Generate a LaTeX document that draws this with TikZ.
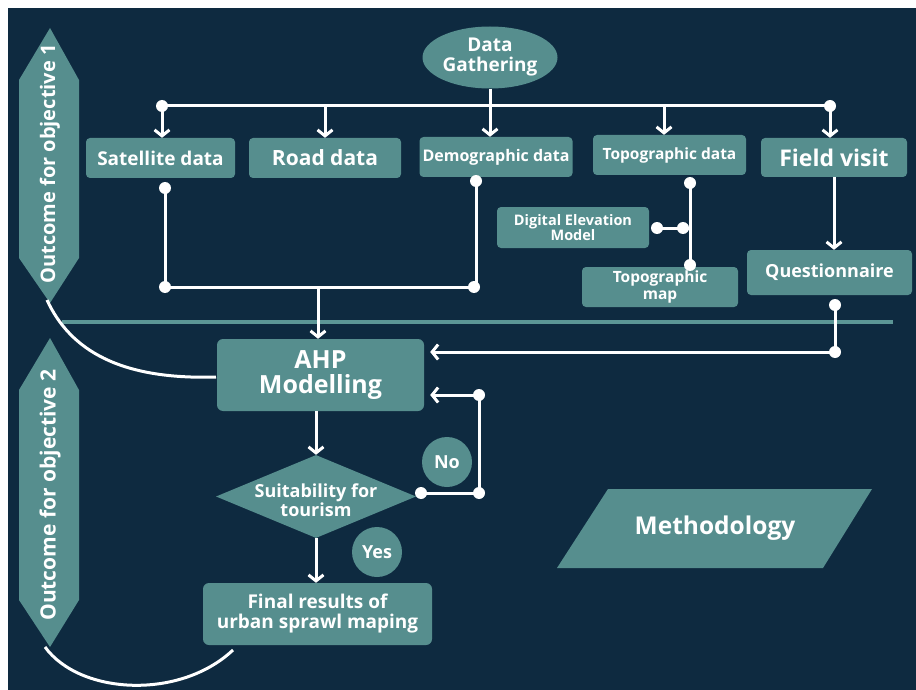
\documentclass[tikz,border=0pt]{standalone}
\usepackage{fontspec}
\setmainfont{Open Sans}
\usetikzlibrary{arrows.meta,shapes.geometric}
\definecolor{navy}{RGB}{14,42,64}
\definecolor{tealc}{RGB}{86,142,142}
\definecolor{tline}{RGB}{92,150,150}
\newcommand\fsz[2]{\fontsize{#1}{#2}\selectfont}
\tikzset{
  box/.style={rectangle, rounded corners=4pt, fill=tealc, text=white, font=\bfseries, inner sep=0pt, align=center},
  wire/.style={draw=white, line width=3pt},
  arr/.style={wire, -{Straight Barb[length=6pt,width=15pt]}},
  dot/.style={circle, fill=white, inner sep=0pt, minimum size=12pt},
  lbl/.style={text=white, font=\bfseries, align=center, inner sep=0pt},
  shapefill/.style={fill=tealc},
  bubble/.style={circle, fill=tealc, text=white, font=\bfseries, inner sep=0pt, minimum size=50pt},
}
\begin{document}
\begin{tikzpicture}[x=1pt,y=-1pt]
\useasboundingbox (0,0) rectangle (916,690);
\fill[white] (0,0) rectangle (916,690);
\fill[navy] (8,8) rectangle (916,690);

% separator line
\draw[tline, line width=4pt] (62,322) -- (893,322);

% outcome hexagons
\fill[shapefill] (50,28) -- (79,80) -- (79,258) -- (50,303) -- (19,258) -- (19,80) -- cycle;
\node[lbl, rotate=90, font=\bfseries\fsz{20}{20}] (out1) at (50,164) {Outcome for objective 1};
\fill[shapefill] (50,338) -- (79,390) -- (79,600) -- (50,647) -- (19,600) -- (19,390) -- cycle;
\node[lbl, rotate=90, font=\bfseries\fsz{21}{21}] (out2) at (50,495) {Outcome for objective 2};

% curves
\draw[white, line width=3pt] (47,300) .. controls (70,350) and (120,380) .. (216,377);
\draw[white, line width=3pt] (45,647) .. controls (80,695) and (180,700) .. (233,650);

% data gathering
\node[ellipse, fill=tealc, text=white, font=\bfseries\fsz{19}{20}, inner sep=0pt, minimum width=135pt, minimum height=62pt, align=center] (dg) at (490,57.5) {Data\\Gathering};

% first row boxes
\node[box, font=\bfseries\fsz{19}{20}, minimum width=149pt, minimum height=40pt] (sat) at (160.5,158) {Satellite data};
\node[box, font=\bfseries\fsz{21}{22}, minimum width=152pt, minimum height=40pt] (road) at (325,158) {Road data};
\node[box, font=\bfseries\fsz{16}{17}, minimum width=153pt, minimum height=40pt] (dem) at (496,157) {Demographic data};
\node[box, font=\bfseries\fsz{15.5}{16}, minimum width=153pt, minimum height=40pt] (topo) at (669.5,155) {Topographic data};
\node[box, font=\bfseries\fsz{23}{24}, minimum width=146pt, minimum height=39pt] (field) at (834,157.5) {Field visit};

\node[box, font=\bfseries\fsz{14.5}{15}, minimum width=152pt, minimum height=41pt] (dem2) at (573,227.5) {Digital Elevation\\Model};
\node[box, font=\bfseries\fsz{15.5}{16.5}, minimum width=156pt, minimum height=40pt] (tmap) at (660,287) {Topographic\\map};
\node[box, font=\bfseries\fsz{18}{18}, minimum width=165pt, minimum height=45pt] (quest) at (829.5,272.5) {Questionnaire};

% AHP, decision, final
\node[box, rounded corners=6pt, font=\bfseries\fsz{25}{25}, minimum width=207pt, minimum height=72pt] (ahp) at (320.5,375) {AHP\\Modelling};
\node[diamond, fill=tealc, inner sep=0pt, minimum width=200pt, minimum height=83pt] (suit) at (316,496.5) {};
\node[lbl, font=\bfseries\fsz{18}{17}] (suittxt) at (316,500) {Suitability for\\tourism};
\node[box, rounded corners=6pt, font=\bfseries\fsz{19}{20}, minimum width=229pt, minimum height=62pt] (final) at (317.5,614) {Final results of\\urban sprawl maping};

\node[bubble, font=\bfseries\fsz{18}{18}] (no) at (447,462) {No};
\node[bubble, font=\bfseries\fsz{18}{18}] (yes) at (377,552) {Yes};

% methodology
\fill[shapefill] (608,489) -- (872,489) -- (823,568) -- (557,568) -- cycle;
\node[lbl, font=\bfseries\fsz{24.5}{25}] (meth) at (715,528) {Methodology};

% top bus
\node[dot] (busL) at (162,106) {};
\node[dot] (busR) at (830,106) {};
\draw[wire] (busL.center) -- (busR.center);
\draw[arr] (busL.center) -- (busL.center |- sat.north);
\draw[arr] (road.north |- busL) -- (road.north);
\draw[arr] (dg.south) -- (dg.south |- dem.north);
\coordinate (tin) at (664,106);
\draw[arr] (tin) -- (tin |- topo.north);
\draw[arr] (busR.center) -- (busR.center |- field.north);

% lower bus
\node[dot] (dsat) at (165,188) {};
\node[dot] (dsatb) at (165,287) {};
\node[dot] (ddem) at (476,181) {};
\node[dot] (ddemb) at (474,287) {};
\draw[wire] (dsat.center) -- (dsatb.center) -- (ddemb.center);
\draw[wire] (ddem.center) -- (ddem.center |- ddemb.center);
\coordinate (jn) at (318,287);
\draw[arr] (jn) -- (jn |- ahp.north);

% topographic branch
\node[dot] (dtopo) at (690,183) {};
\node[dot] (dtmap) at (690,265) {};
\draw[wire] (dtopo.center) -- (dtmap.center);
\node[dot] (dd1) at (657,228) {};
\node[dot] (dd2) at (683,228) {};
\draw[wire] (dd1.center) -- (dd1.center -| dtopo.center);

% field visit / questionnaire
\draw[arr] (field.south) -- (field.south |- quest.north);
\node[dot] (dq) at (835,305) {};
\node[dot] (dq2) at (835,352) {};
\draw[wire] (dq.center) -- (dq2.center);
\draw[arr, shorten >=6pt] (dq2.center) -- (dq2.center -| ahp.east);

% decision loop
\draw[arr] (suit.north |- ahp.south) -- (suit.north);
\draw[arr] (suit.south) -- (suit.south |- final.north);
\node[dot] (dn1) at (421,493) {};
\node[dot] (dn2) at (479,493) {};
\node[dot] (dn3) at (479,395) {};
\draw[wire] (dn1.center) -- (dn2.center) -- (dn3.center);
\draw[arr, shorten >=6pt] (dn3.center) -- (dn3.center -| ahp.east);
\end{tikzpicture}
\end{document}
